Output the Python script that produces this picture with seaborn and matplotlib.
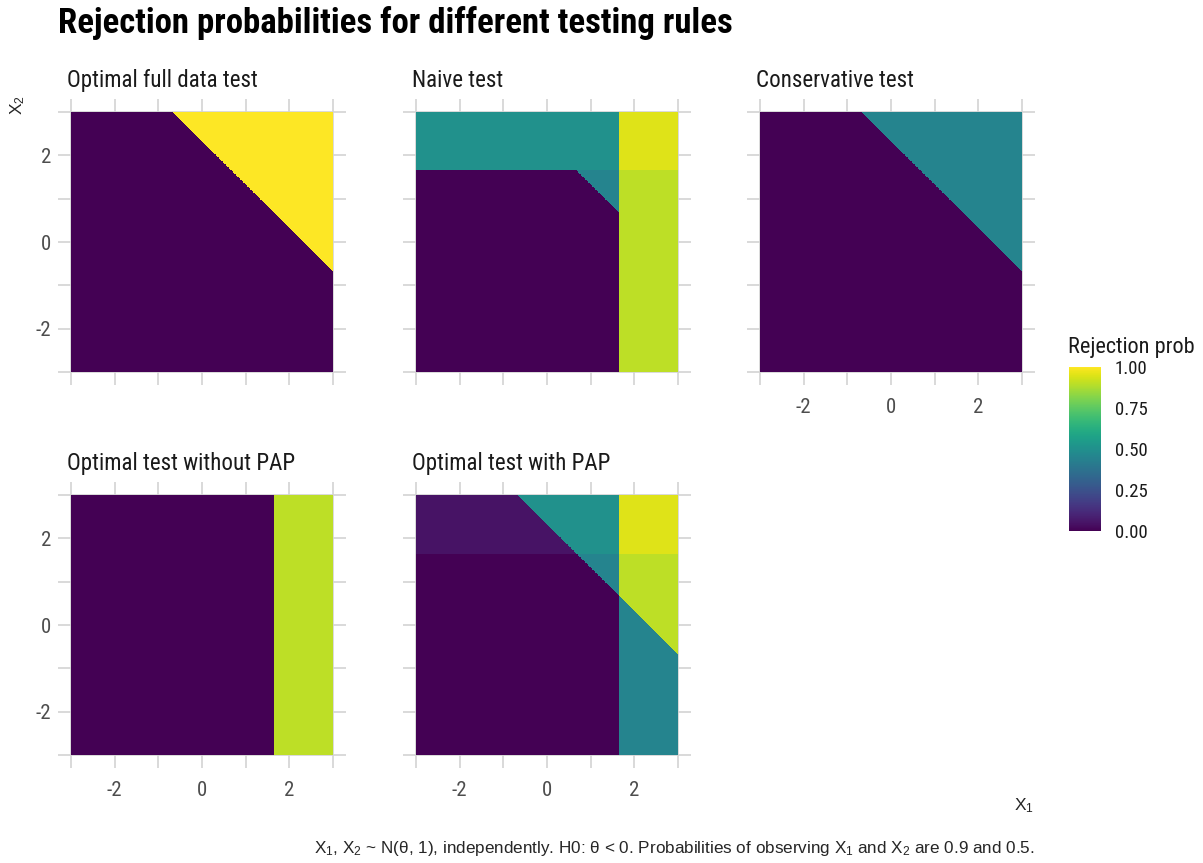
import numpy as np
import pandas as pd
import seaborn as sns
import matplotlib.pyplot as plt
from matplotlib import font_manager

# Facets (one testing rule each)
tests = ["Optimal full data test", "Naive test", "Conservative test",
         "Optimal test without PAP", "Optimal test with PAP"]

# Critical values
z_single = 1.645   # one statistic observed
z_sum = 2.326      # x1 + x2 when both observed

# Regions: none, sum only, x2 only, x2 + sum, x1 only, x1 + sum, both
full_data = [0, 1.0, 0, 1.0, 0, 1.0, 1.0]
naive = [0, 0.45, 0.5, 0.5, 0.9, 0.9, 0.95]
conservative = [0, 0.45, 0, 0.45, 0, 0.45, 0.45]
no_pap = [0, 0, 0, 0, 0.9, 0.9, 0.9]
with_pap = [0, 0.45, 0.05, 0.5, 0.45, 0.9, 0.95]
probs = [full_data, naive, conservative, no_pap, with_pap]

cbar_ticks = [0, 0.25, 0.5, 0.75, 1.0]
cbar_labels = ["0.00", "0.25", "0.50", "0.75", "1.00"]

# Grid over [-3, 3] x [-3, 3]
n = 600
step = 6 / n
x1 = -3 + step / 2 + step * np.arange(n)
x2 = x1[::-1]
X1, X2 = np.meshgrid(x1, x2)
a = X1 > z_single
b = X2 > z_single
c = X1 + X2 > z_sum
region = np.select([a & b, a & c, a, b & c, b, c], [6, 5, 4, 3, 2, 1], default=0)

sns.set_theme(style="white")
names = {f.name for f in font_manager.fontManager.ttflist}
main_font = "Roboto Condensed" if "Roboto Condensed" in names else "Roboto"
plt.rcParams["font.family"] = [main_font, "DejaVu Sans"]
plt.rcParams["mathtext.fontset"] = "custom"
plt.rcParams["mathtext.rm"] = "Liberation Sans"
plt.rcParams["mathtext.it"] = "Liberation Sans:italic"

W, H = 1203, 863
fig = plt.figure(figsize=(W / 100, H / 100), dpi=100)

# panel boxes in pixels: left, top
lefts = [58, 403, 747]
tops = [99, 482]
pw, ph = 288, 286
pad = 0.3 / 6 * n


def to_idx(v):
    return (v + 3) / 6 * n


cax = fig.add_axes([1069 / W, 1 - 531 / H, 32 / W, 164 / H])

for i, (name, p) in enumerate(zip(tests, probs)):
    row, col = divmod(i, 3)
    l, t = lefts[col], tops[row]
    ax = fig.add_axes([l / W, 1 - (t + ph) / H, pw / W, ph / H])
    vals = np.array(p)[region]
    df = pd.DataFrame(vals, index=x2, columns=x1)
    last = i == len(tests) - 1
    sns.heatmap(df, ax=ax, cmap="viridis", vmin=0, vmax=1,
                xticklabels=False, yticklabels=False,
                cbar=last, cbar_ax=cax if last else None, rasterized=True)
    ax.set_xlim(-pad, n + pad)
    ax.set_ylim(n + pad, -pad)
    ax.set_xlabel("")
    ax.set_ylabel("")
    ax.set_axisbelow(True)
    ax.set_xticks([to_idx(v) for v in (-2, 0, 2)])
    ax.set_yticks([to_idx(v) for v in (-2, 0, 2)])
    ax.set_xticks([to_idx(v) for v in (-3, -1, 1, 3)], minor=True)
    ax.set_yticks([to_idx(v) for v in (-3, -1, 1, 3)], minor=True)
    ax.grid(True, which="both", color="#d3d3d3", linewidth=1.2)
    ax.tick_params(which="both", length=0, labelsize=15,
                   labelcolor="#4d4d4d")
    ax.tick_params(axis="x", pad=9)
    ax.tick_params(axis="y", pad=5)
    ax.set_xticklabels(["-2", "0", "2"] if i >= 2 else [])
    # heatmap y index runs top-down, so +2 sits first
    ax.set_yticklabels(["2", "0", "-2"] if col == 0 else [])
    fig.text((l + 9) / W, 1 - (t - 12) / H, name, fontsize=16.6,
             color="#1a1a1a", ha="left", va="baseline")

cax.set_yticks(cbar_ticks)
cax.set_yticklabels(cbar_labels)
cax.tick_params(axis="y", which="both", left=True, right=True,
                direction="in", color="white", length=5, width=1,
                labelsize=13.5, labelcolor="#1a1a1a", pad=10)
for s in cax.spines.values():
    s.set_visible(False)
fig.text(1068 / W, 1 - 353 / H, "Rejection prob", fontsize=16,
         color="#1a1a1a", ha="left", va="baseline")

fig.text(58 / W, 1 - 33 / H, "Rejection probabilities for different testing rules",
         fontsize=25, fontweight="bold", color="black", ha="left", va="baseline")

fig.text(18 / W, 1 - 95 / H, "X$_2$", rotation=90, fontsize=12.5,
         family="Liberation Sans", ha="center", va="top")
fig.text(1034 / W, 1 - 806 / H, "X$_1$", fontsize=12.5,
         family="Liberation Sans", ha="right", va="center")
fig.text(1035 / W, 1 - 848 / H,
         "X$_1$, X$_2$ ~ N(θ, 1), independently. H0: θ < 0. "
         "Probabilities of observing X$_1$ and X$_2$ are 0.9 and 0.5.",
         fontsize=12.3, family="Liberation Sans", ha="right", va="center")

fig.savefig("out.png", dpi=100, facecolor="white")
